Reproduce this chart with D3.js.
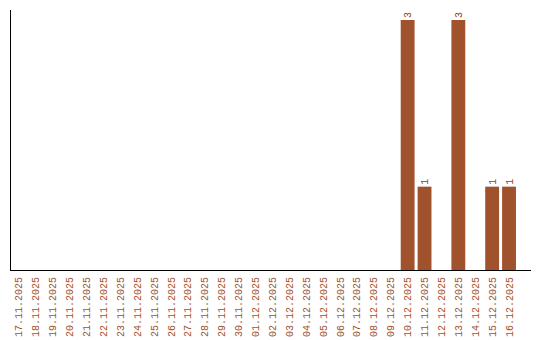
<!DOCTYPE html>
<html>
<head>
<meta charset="utf-8">
<script src="https://cdn.jsdelivr.net/npm/d3@7"></script>
<style>
  body { margin: 0; background: #fff; }
</style>
</head>
<body>
<div id="chart"></div>
<script>
// data
var dates = ["17.11.2025", "18.11.2025", "19.11.2025", "20.11.2025", "21.11.2025",
    "22.11.2025", "23.11.2025", "24.11.2025", "25.11.2025", "26.11.2025",
    "27.11.2025", "28.11.2025", "29.11.2025", "30.11.2025", "01.12.2025",
    "02.12.2025", "03.12.2025", "04.12.2025", "05.12.2025", "06.12.2025",
    "07.12.2025", "08.12.2025", "09.12.2025", "10.12.2025", "11.12.2025",
    "12.12.2025", "13.12.2025", "14.12.2025", "15.12.2025", "16.12.2025"];
var counts = [0, 0, 0, 0, 0, 0, 0, 0, 0, 0,
    0, 0, 0, 0, 0, 0, 0, 0, 0, 0,
    0, 0, 0, 3, 1, 0, 3, 0, 1, 1];

var width = 540, height = 340;
var color = "#a0522d";

var svg = d3.select("#chart")
    .append("svg")
    .attr("width", width)
    .attr("height", height);

// x axis
var x = d3.scaleBand()
    .domain(dates)
    .range([9, 519])
    .padding(0.18);

// y axis
var y = d3.scaleLinear()
    .domain([0, d3.max(counts)])
    .range([270, 20]);

// bars
svg.selectAll(".bar")
    .data(dates)
    .enter()
    .append("rect")
    .attr("class", "bar")
    .attr("x", function (d) { return x(d); })
    .attr("width", x.bandwidth())
    .attr("y", function (d, i) { return y(counts[i]); })
    .attr("height", function (d, i) { return y(0) - y(counts[i]); })
    .attr("fill", color);

// value labels
svg.selectAll(".val")
    .data(dates.filter(function (d, i) { return counts[i] > 0; }))
    .enter()
    .append("text")
    .attr("class", "val")
    .attr("transform", function (d) {
        var i = dates.indexOf(d);
        return "translate(" + (x(d) + x.bandwidth() / 2 + 3.5) + "," + (y(counts[i]) - 2) + ") rotate(-90)";
    })
    .attr("text-anchor", "start")
    .attr("font-family", "Liberation Mono, monospace")
    .style("font-size", "10px")
    .attr("fill", "#8b4513")
    .text(function (d) { return counts[dates.indexOf(d)]; });

// axis lines
svg.append("line")
    .attr("x1", 10.5).attr("x2", 10.5)
    .attr("y1", 10).attr("y2", 270)
    .attr("stroke", "#000");

svg.append("line")
    .attr("x1", 10).attr("x2", 531)
    .attr("y1", 270.5).attr("y2", 270.5)
    .attr("stroke", "#000");

// x labels
svg.selectAll(".xlabel")
    .data(dates)
    .enter()
    .append("text")
    .attr("class", "xlabel")
    .attr("transform", function (d) {
        return "translate(" + (x(d) + x.bandwidth() / 2 + 3.5) + ",277) rotate(-90)";
    })
    .attr("text-anchor", "end")
    .attr("font-family", "Liberation Mono, monospace")
    .style("font-size", "10px")
    .attr("fill", color)
    .text(function (d) { return d; });
</script>
</body>
</html>
